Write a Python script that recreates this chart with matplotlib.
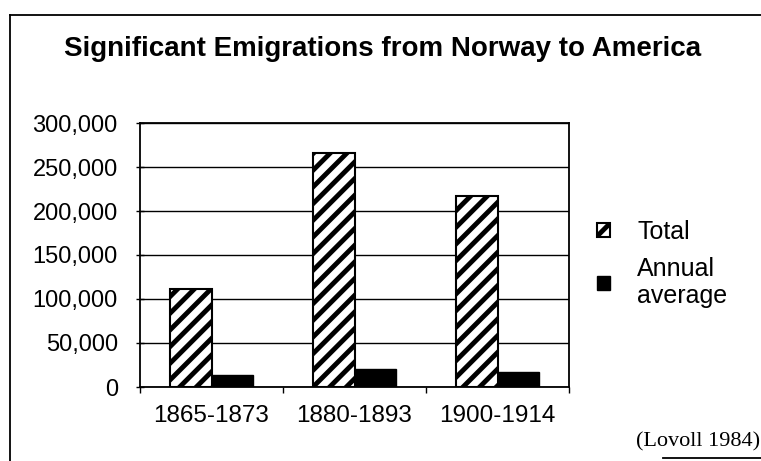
import numpy as np
import matplotlib
matplotlib.use("Agg")
import matplotlib.pyplot as plt
from matplotlib.ticker import FuncFormatter
from matplotlib.lines import Line2D

plt.rcParams["font.family"] = ["Liberation Sans", "DejaVu Sans"]
plt.rcParams["hatch.linewidth"] = 3.5
plt.rcParams["hatch.color"] = "black"

periods = ["1865-1873", "1880-1893", "1900-1914"]
total = [111000, 266000, 217000]
annual = [14000, 21000, 17000]
y_ticks = [0, 50000, 100000, 150000, 200000, 250000, 300000]

fig = plt.figure(figsize=(7.61, 4.61), dpi=100)
ax = fig.add_axes([140 / 761, 1 - 387 / 461, (569 - 140) / 761, (387 - 123) / 461])

x = np.arange(len(periods))
w = 0.29
ax.bar(x - w / 2, total, w, color="white", edgecolor="black", hatch="//",
       linewidth=1.5, label="Total", zorder=3)
ax.bar(x + w / 2, annual, w, color="black", edgecolor="black",
       linewidth=1.0, label="Annual\naverage", zorder=3)

ax.set_xlim(-0.5, len(periods) - 0.5)
ax.set_ylim(0, 300000)
ax.set_yticks(y_ticks)
ax.yaxis.set_major_formatter(FuncFormatter(lambda v, p: f"{int(v):,}"))
ax.yaxis.grid(True, color="black", linewidth=1.0, zorder=0)

# category labels centred, tick marks at the boundaries
ax.set_xticks(np.arange(len(periods) + 1) - 0.5)
ax.set_xticklabels([])
ax.set_xticks(x, minor=True)
ax.set_xticklabels(periods, minor=True)
ax.tick_params(axis="x", which="major", direction="out", length=4, width=1)
ax.tick_params(axis="x", which="minor", length=0, pad=13, labelsize=17.5)
ax.tick_params(axis="y", direction="inout", length=6, width=1, pad=13, labelsize=17)

for s in ax.spines.values():
    s.set_linewidth(1.3)
    s.set_color("black")

fig.text(383 / 761, 1 - 49 / 461, "Significant Emigrations from Norway to America",
         ha="center", va="center", fontsize=20, fontweight="bold")

ax.legend(loc="upper left", bbox_to_anchor=(597 / 761, 1 - 220 / 461),
          bbox_transform=fig.transFigure, frameon=False, fontsize=18,
          handlelength=0.5, handleheight=0.5, handletextpad=1.1,
          labelspacing=0.5, borderpad=0, borderaxespad=0)

fig.text(0.999, 1 - 442 / 461, "(Lovoll 1984)", ha="right", va="center",
         fontsize=16, family=["Liberation Serif", "DejaVu Serif"])

# outer frame of the scanned page
fig.add_artist(Line2D([10 / 761, 10 / 761], [0, 1 - 15 / 461], color="black",
                      linewidth=1.3, transform=fig.transFigure))
fig.add_artist(Line2D([10 / 761, 1], [1 - 15 / 461, 1 - 15 / 461], color="black",
                      linewidth=1.3, transform=fig.transFigure))
fig.add_artist(Line2D([663 / 761, 1], [1 - 458 / 461, 1 - 458 / 461], color="black",
                      linewidth=1.3, transform=fig.transFigure))

fig.savefig("out.png", dpi=100)
